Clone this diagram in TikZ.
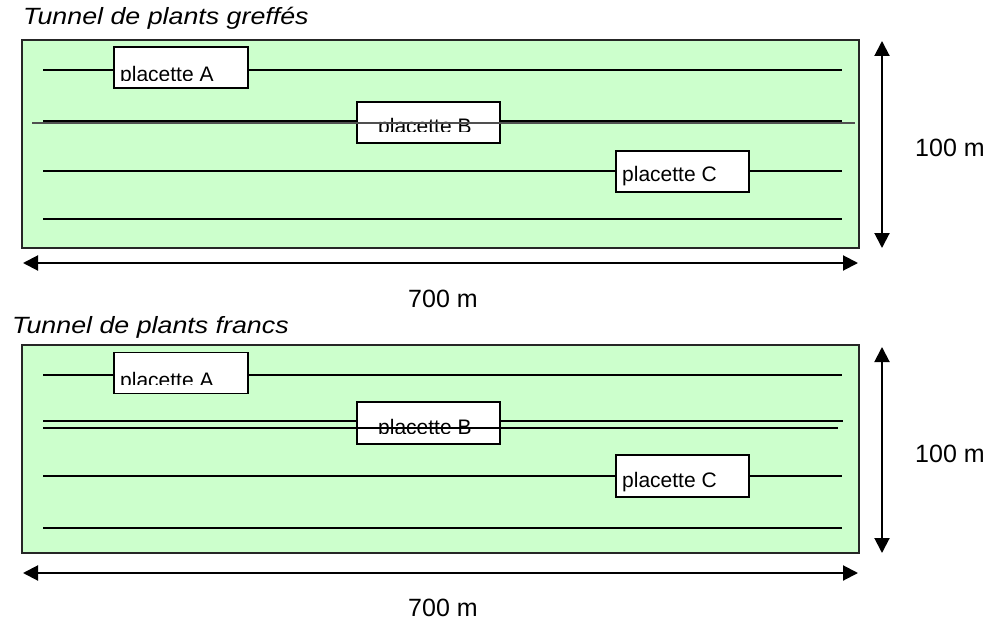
\documentclass[tikz,border=0pt]{standalone}
\usepackage{fontspec}
\setmainfont{Liberation Sans}
\newfontfamily\titlefont[FakeStretch=1.14]{Liberation Sans}
\usetikzlibrary{arrows.meta}
\definecolor{tunnelgreen}{HTML}{CCFFCC}
\definecolor{strikegray}{HTML}{505050}
\begin{document}
\begin{tikzpicture}[x=1pt,y=-1pt,
  tunnel/.style={draw=black!85,line width=1.5pt,fill=tunnelgreen},
  row/.style={draw=black,line width=1.3pt},
  strike/.style={draw=strikegray,line width=1.3pt},
  plot/.style={draw=black,line width=1.3pt,fill=white,inner sep=0pt,minimum width=134pt,minimum height=41pt},
  plotlabel/.style={anchor=base west,inner sep=0pt,font=\fontsize{21}{25}\selectfont},
  dim/.style={line width=2pt,{Triangle[length=15pt,width=15pt]}-{Triangle[length=15pt,width=15pt]}},
  dimlabel/.style={anchor=base west,inner sep=0pt,font=\fontsize{25}{30}\selectfont},
  title/.style={anchor=base west,inner sep=0pt,font=\titlefont\itshape\fontsize{23.5}{28}\selectfont}]
\useasboundingbox (0,0) rectangle (988,623);

% ---------- Top tunnel ----------
\node[title] (t1) at (23,25) {Tunnel de plants greffés};
\draw[tunnel] (22,40) rectangle (859,248);
\coordinate (r1a) at (43,70);  \coordinate (r1b) at (842,70);
\coordinate (r2a) at (43,121); \coordinate (r2b) at (842,121);
\coordinate (r3a) at (43,171); \coordinate (r3b) at (842,171);
\coordinate (r4a) at (43,219); \coordinate (r4b) at (842,219);
\draw[row] (r1a) -- (r1b);
\draw[row] (r2a) -- (r2b);
\draw[row] (r3a) -- (r3b);
\draw[row] (r4a) -- (r4b);
\node[plot] (pa1) at (181,67.5) {};
\begin{scope}
  \clip (115,48) rectangle (247,81);
  \node[plotlabel] (la1) at (120,82) {placette A};
\end{scope}
\node[plot,minimum width=143pt] (pb1) at (428.5,122.5) {};
\begin{scope}
  \clip (358,103) rectangle (499,132);
  \node[plotlabel] (lb1) at (378,134) {placette B};
\end{scope}
\coordinate (s1a) at (32,123); \coordinate (s1b) at (855,123);
\draw[strike] (s1a) -- (s1b);
\node[plot,minimum width=133pt] (pc1) at (682.5,171.5) {};
\node[plotlabel] (lc1) at (622,182) {placette C};

\coordinate (h1a) at (23,263); \coordinate (h1b) at (858,263);
\draw[dim] (h1a) -- (h1b);
\node[dimlabel] (w1) at (408,307) {700 m};
\coordinate (v1a) at (882,41); \coordinate (v1b) at (882,248);
\draw[dim] (v1a) -- (v1b);
\node[dimlabel] (d1) at (915,157) {100 m};

% ---------- Bottom tunnel ----------
\node[title] (t2) at (12,333) {Tunnel de plants francs};
\draw[tunnel] (22,345) rectangle (859,553);
\coordinate (q1a) at (43,375); \coordinate (q1b) at (842,375);
\coordinate (q2a) at (43,421); \coordinate (q2b) at (843,421);
\coordinate (q3a) at (43,476); \coordinate (q3b) at (842,476);
\coordinate (q4a) at (43,528); \coordinate (q4b) at (842,528);
\draw[row] (q1a) -- (q1b);
\draw[row] (q2a) -- (q2b);
\draw[row] (q3a) -- (q3b);
\draw[row] (q4a) -- (q4b);
\node[plot] (pa2) at (181,373) {};
\begin{scope}
  \clip (115,354) rectangle (247,384);
  \node[plotlabel] (la2) at (120,387) {placette A};
\end{scope}
\node[plot,minimum width=143pt,minimum height=42pt] (pb2) at (428.5,423) {};
\begin{scope}
  \clip (358,403) rectangle (499,433);
  \node[plotlabel] (lb2) at (378,434) {placette B};
\end{scope}
\coordinate (s2a) at (43,428); \coordinate (s2b) at (838,428);
\draw[row] (s2a) -- (s2b);
\node[plot,minimum width=133pt,minimum height=42pt] (pc2) at (682.5,476) {};
\node[plotlabel] (lc2) at (622,487) {placette C};

\coordinate (h2a) at (23,573); \coordinate (h2b) at (858,573);
\draw[dim] (h2a) -- (h2b);
\node[dimlabel] (w2) at (408,616) {700 m};
\coordinate (v2a) at (882,347); \coordinate (v2b) at (882,553);
\draw[dim] (v2a) -- (v2b);
\node[dimlabel] (d2) at (915,462) {100 m};
\end{tikzpicture}
\end{document}
